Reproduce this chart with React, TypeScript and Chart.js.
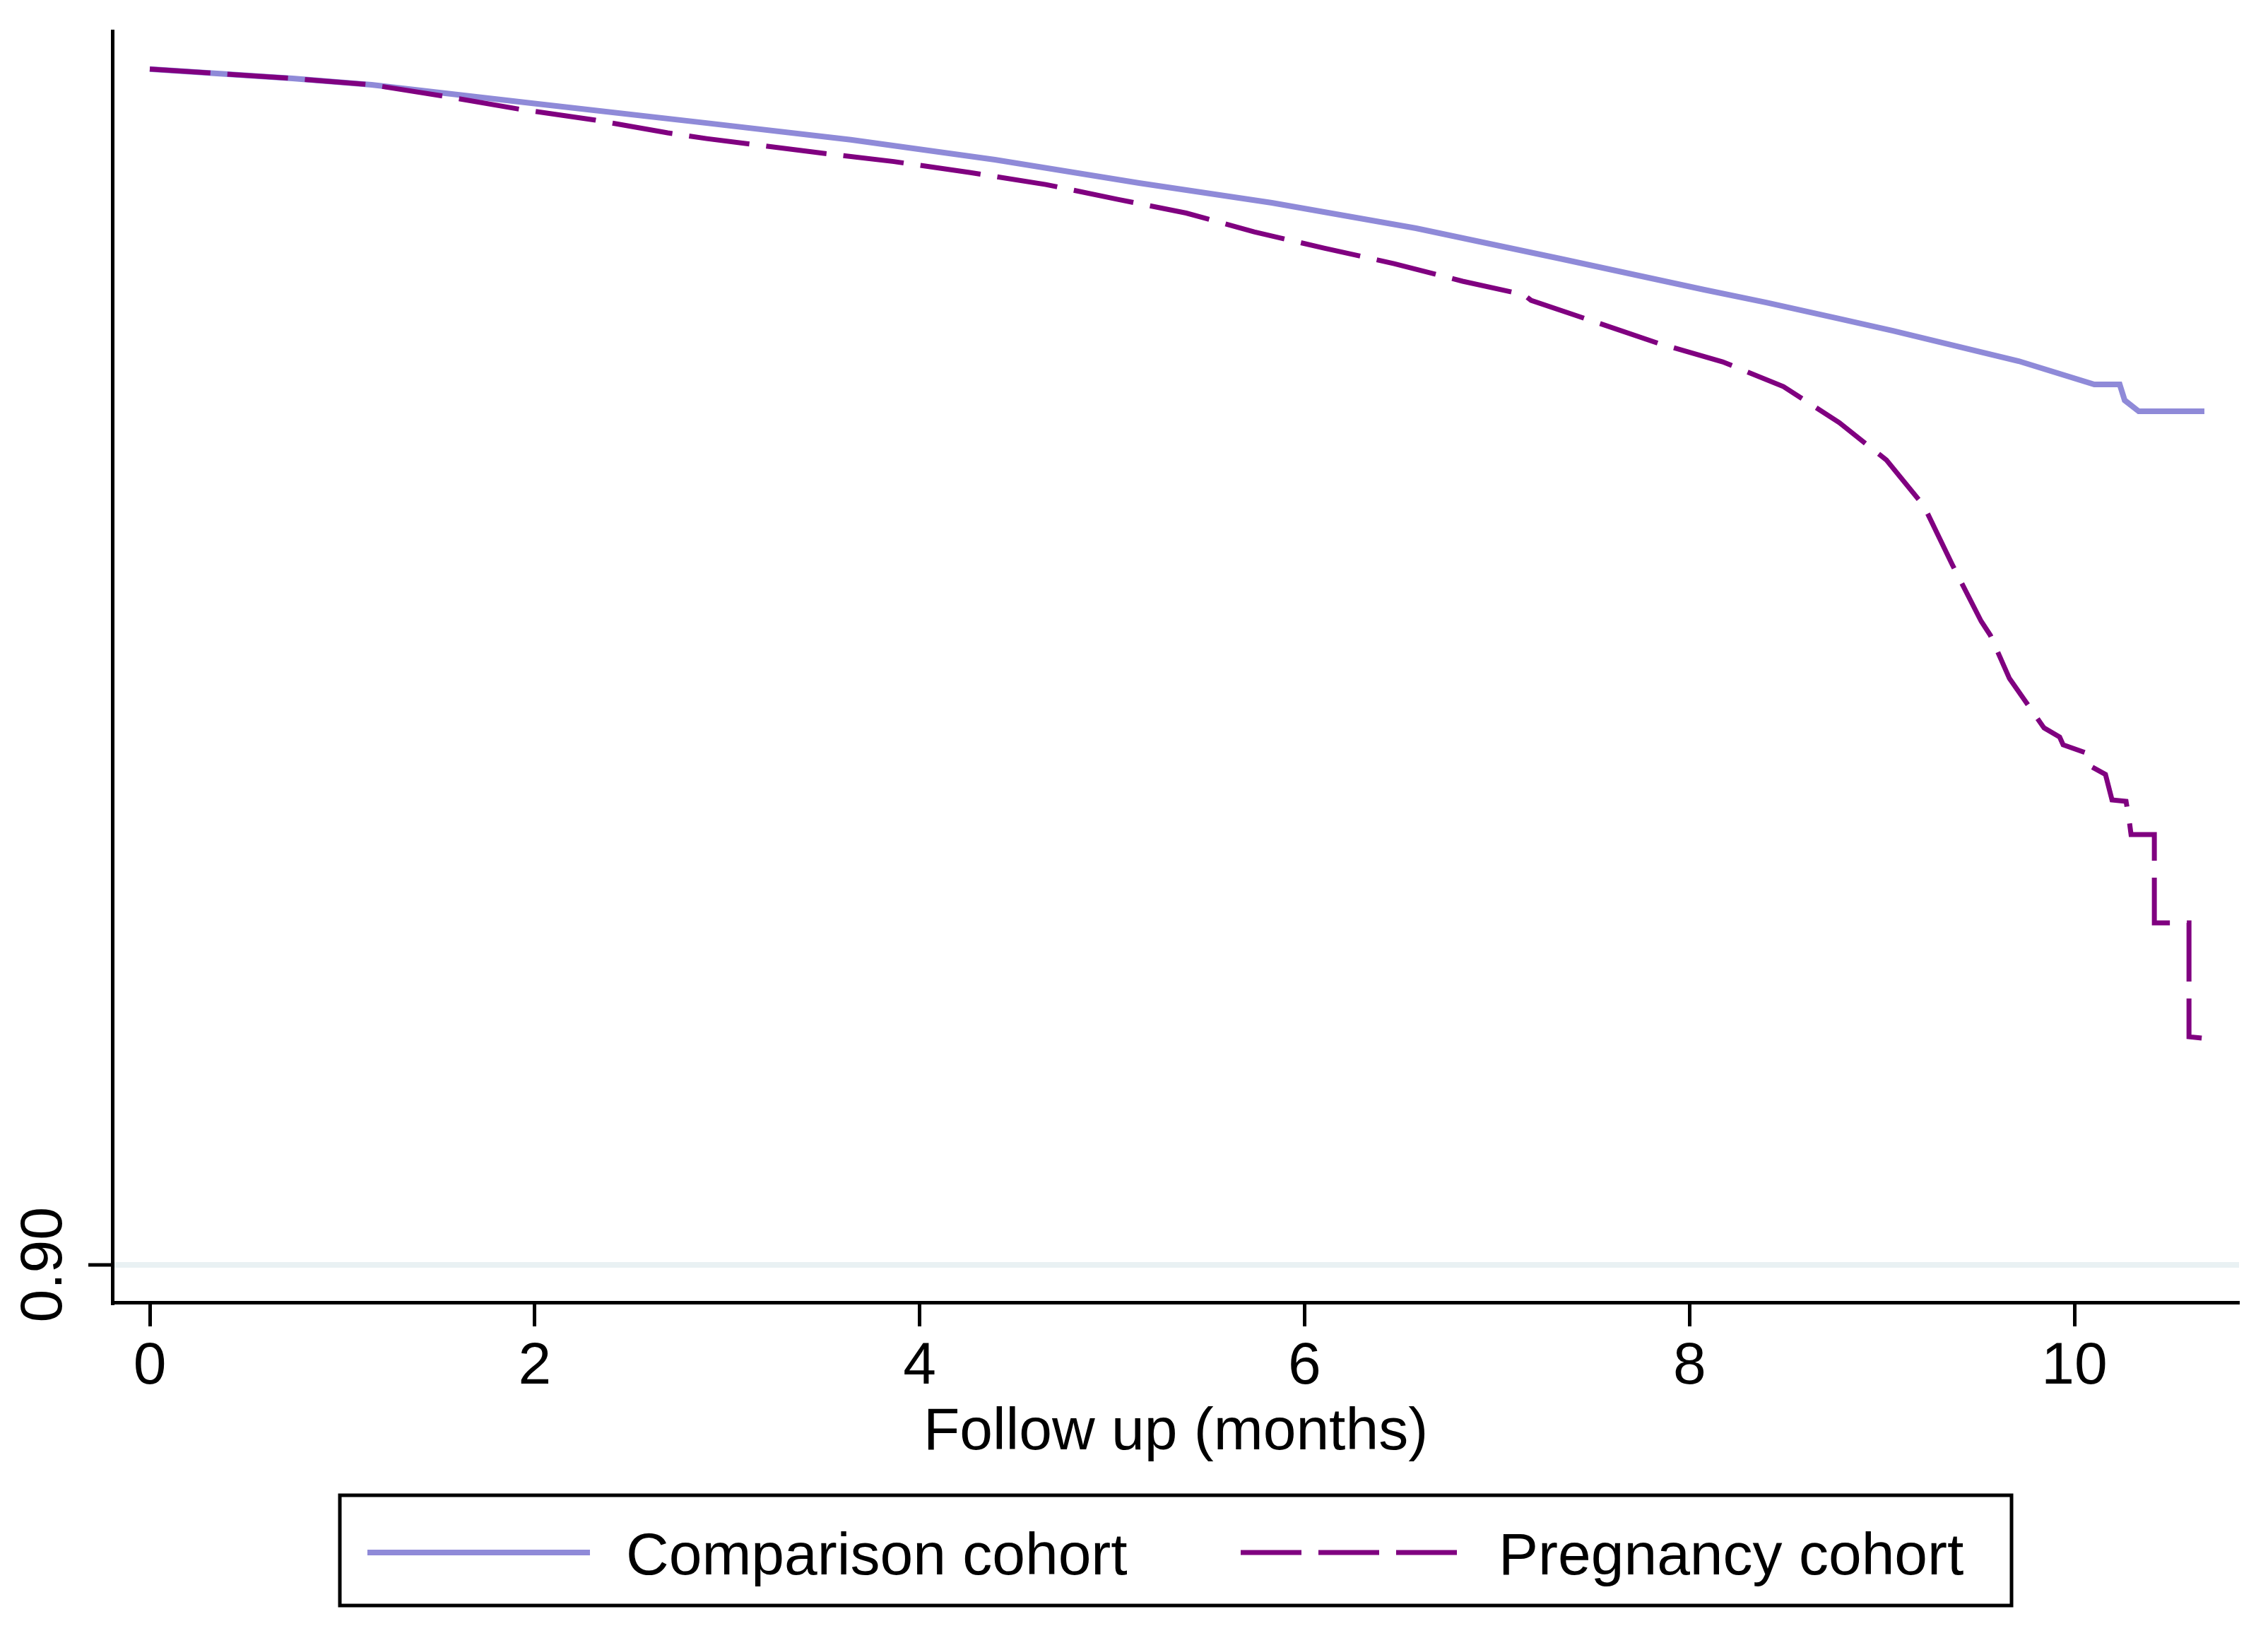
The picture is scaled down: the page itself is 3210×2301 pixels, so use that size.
import React, { useEffect, useRef } from 'react';
import { Chart, registerables } from 'chart.js';

Chart.register(...registerables);

// ---------- data ----------
const SERIES_LABELS = ['Comparison cohort', 'Pregnancy cohort'];
const X_TITLE = 'Follow up (months)';
const X_TICKS = [0, 2, 4, 6, 8, 10];
const Y_TICKS = [0.9];

const comparisonMonths = [0, 0.742, 1.153, 2.015, 2.893, 3.642, 4.391, 5.14, 5.83, 6.579, 7.327, 8.076, 8.399, 8.767, 9.057, 9.71, 10.103, 10.235, 10.261, 10.334, 10.675];
const comparisonSurv = [1.0, 0.99921, 0.99868, 0.99708, 0.99548, 0.99408, 0.99241, 0.99046, 0.98881, 0.98668, 0.98414, 0.98154, 0.98047, 0.97915, 0.97811, 0.97557, 0.97362, 0.97362, 0.97229, 0.97137, 0.97137];

const pregnancyMonths = [0, 0.742, 1.153, 1.549, 1.924, 2.316, 2.691, 2.893, 3.473, 3.866, 4.258, 4.655, 5.029, 5.385, 5.738, 6.101, 6.465, 6.821, 7.14, 7.177, 7.515, 7.841, 8.172, 8.488, 8.778, 9.023, 9.218, 9.365, 9.515, 9.563, 9.662, 9.842, 9.923, 9.941, 10.055, 10.088, 10.161, 10.195, 10.268, 10.283, 10.294, 10.415, 10.415, 10.595, 10.595, 10.661];
const pregnancySurv = [1.0, 0.99921, 0.99868, 0.99767, 0.99663, 0.99572, 0.99466, 0.99418, 0.993, 0.99226, 0.99135, 0.99034, 0.9891, 0.98795, 0.98638, 0.98502, 0.98372, 0.98225, 0.98112, 0.98065, 0.97882, 0.97704, 0.97551, 0.97344, 0.97043, 0.96729, 0.96345, 0.95855, 0.95382, 0.95264, 0.94903, 0.94489, 0.94413, 0.94348, 0.94283, 0.94165, 0.941, 0.93887, 0.93875, 0.93733, 0.93597, 0.93597, 0.92858, 0.92858, 0.91906, 0.91895];

// ---------- style ----------
const W = 3210;
const H = 2301;
const FONT = '"Liberation Sans", Arial, Helvetica, sans-serif';
const FS = 84;
const COMPARISON_COLOR = '#8f8ad8';
const PREGNANCY_COLOR = '#800080';
const DASH = [86, 24];
const AXIS_W = 5;

const legendPlugin = {
  id: 'boxLegend',
  afterDraw(chart: any) {
    const ctx = chart.ctx;
    const ca = chart.chartArea;
    const cx = (ca.left + ca.right) / 2;
    const boxW = 2366;
    const boxH = 156;
    const top = 2116;
    const left = cx - boxW / 2;
    ctx.save();
    ctx.setLineDash([]);
    ctx.lineWidth = AXIS_W;
    ctx.strokeStyle = '#000';
    ctx.strokeRect(left, top, boxW, boxH);
    const lineY = 2197;
    const layout = [
      { line: 39, len: 315, text: 405 },
      { line: 1275, len: 309, text: 1640 },
    ];
    const order = [0, 1];
    order.forEach((di, k) => {
      const ds = chart.data.datasets[di];
      const l = layout[k];
      ctx.save();
      ctx.beginPath();
      ctx.setLineDash(ds.borderDash || []);
      ctx.lineWidth = ds.borderWidth;
      ctx.strokeStyle = ds.borderColor;
      ctx.moveTo(left + l.line, lineY);
      ctx.lineTo(left + l.line + l.len, lineY);
      ctx.stroke();
      ctx.restore();
      ctx.fillStyle = '#000';
      ctx.font = `${FS}px ${FONT}`;
      ctx.textBaseline = 'middle';
      ctx.textAlign = 'left';
      ctx.fillText(ds.label, left + l.text, 2205);
    });
    ctx.restore();
  },
};

export default function App() {
  const ref = useRef<HTMLCanvasElement | null>(null);

  useEffect(() => {
    if (!ref.current) return;
    const chart = new Chart(ref.current, {
      type: 'line',
      data: {
        datasets: [
          {
            label: SERIES_LABELS[0],
            data: comparisonMonths.map((x, i) => ({ x, y: comparisonSurv[i] })),
            borderColor: COMPARISON_COLOR,
            backgroundColor: COMPARISON_COLOR,
            borderWidth: 8,
            pointRadius: 0,
            tension: 0,
            fill: false,
            order: 1,
          },
          {
            label: SERIES_LABELS[1],
            data: pregnancyMonths.map((x, i) => ({ x, y: pregnancySurv[i] })),
            borderColor: PREGNANCY_COLOR,
            backgroundColor: PREGNANCY_COLOR,
            borderWidth: 7,
            borderDash: DASH,
            pointRadius: 0,
            tension: 0,
            fill: false,
            order: 0,
          },
        ],
      },
      options: {
        responsive: false,
        animation: false,
        devicePixelRatio: 1,
        layout: { padding: { left: 0, right: 41, top: 44, bottom: 0 } },
        plugins: {
          legend: { display: false },
          tooltip: { enabled: false },
        },
        scales: {
          x: {
            type: 'linear',
            min: -0.1946,
            max: 10.855,
            afterBuildTicks: (s: any) => {
              s.ticks = X_TICKS.map((v) => ({ value: v }));
            },
            afterFit: (s: any) => {
              s.height = 458;
            },
            grid: {
              drawOnChartArea: false,
              drawTicks: true,
              tickLength: 34,
              tickWidth: AXIS_W,
              tickColor: '#000',
            },
            border: { display: true, color: '#000', width: AXIS_W },
            ticks: {
              font: { family: FONT, size: FS },
              color: '#000',
              padding: 7,
              maxRotation: 0,
              minRotation: 0,
              autoSkip: false,
              callback: (v: any) => String(v),
            },
            title: {
              display: true,
              text: X_TITLE,
              font: { family: FONT, size: FS },
              color: '#000',
              padding: { top: 0, bottom: 223 },
            },
          },
          y: {
            type: 'linear',
            min: 0.89685,
            max: 1.00317,
            afterBuildTicks: (s: any) => {
              s.ticks = Y_TICKS.map((v) => ({ value: v }));
            },
            afterFit: (s: any) => {
              s.width = 159;
            },
            grid: {
              color: '#e9f1f3',
              lineWidth: 8,
              drawOnChartArea: true,
              drawTicks: true,
              tickLength: 34,
              tickWidth: AXIS_W,
              tickColor: '#000',
            },
            border: { display: true, color: '#000', width: AXIS_W },
            ticks: {
              font: { family: FONT, size: FS },
              color: '#000',
              padding: -21,
              crossAlign: 'center',
              minRotation: 90,
              maxRotation: 90,
              autoSkip: false,
              callback: (v: any) => Number(v).toFixed(2),
            },
          },
        },
      } as any,
      plugins: [legendPlugin],
    } as any);
    return () => chart.destroy();
  }, []);

  return (
    <div style={{ position: 'absolute', left: 0, top: 0, width: W, height: H, background: '#fff' }}>
      <canvas ref={ref} width={W} height={H} style={{ display: 'block', width: W, height: H }} />
    </div>
  );
}
